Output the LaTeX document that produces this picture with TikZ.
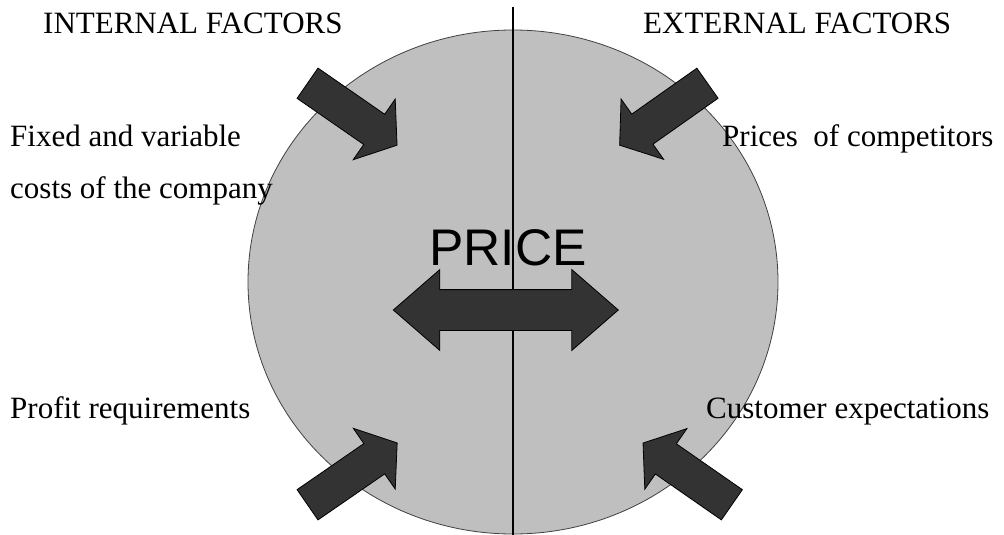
\documentclass[tikz,border=0pt]{standalone}
\usepackage{fontspec}
\setmainfont{Liberation Serif}
\newfontfamily\pricefont{Liberation Sans}
\usetikzlibrary{shapes.arrows}
\newcommand{\fs}{\fontsize{31}{36}\selectfont}

\begin{document}
\begin{tikzpicture}[x=1pt,y=-1pt,
    factor/.style={anchor=base west,inner sep=0pt,font=\fs},
    push/.style={single arrow,draw=black,fill=black!80,line width=0.8pt,
      text height=0pt,text depth=0pt,inner xsep=0pt,inner ysep=18pt,
      single arrow head extend=18.5pt,single arrow tip angle=106,
      minimum height=108.9pt,anchor=tail}]
  \useasboundingbox (0,0) rectangle (1004,535);
  \filldraw[fill=black!25,draw=black!75,line width=0.8pt]
    (513,282) ellipse [x radius=265pt,y radius=252pt];
  \coordinate (top) at (513,7);
  \coordinate (bottom) at (513,535);
  \draw[line width=1.2pt] (top) -- (bottom);
  \node[push,rotate=-34.7] (fixedpush) at (307.2,83) {};
  \node[push,rotate=215.2,minimum height=107.5pt] (rivalpush) at (707.8,83) {};
  \node[push,rotate=34.6] (profitpush) at (307.2,505) {};
  \node[push,rotate=145.2,minimum height=108.2pt] (buyerpush) at (732.2,505) {};
  \node[double arrow,draw=black,fill=black!80,line width=0.8pt,
    text height=0pt,text depth=0pt,inner xsep=0pt,inner ysep=20pt,
    double arrow head extend=20pt,double arrow tip angle=82,
    minimum height=225pt] (pricearrow) at (505.8,310) {};
  \node[anchor=base,inner sep=0pt,font=\pricefont\fontsize{51.5}{60}\selectfont]
    (price) at (508,265) {PRICE};
  \node[factor] (internal) at (43,34) {INTERNAL FACTORS};
  \node[factor] (external) at (643,34) {EXTERNAL FACTORS};
  \node[factor] (costs) at (10,146) {Fixed and variable};
  \node[factor] (company) at (10,198) {costs of the company};
  \node[factor] (rivals) at (722,146) {Prices\ \ of competitors};
  \node[factor] (profit) at (10,418) {Profit requirements};
  \node[factor] (buyers) at (706,418) {Customer expectations};
\end{tikzpicture}
\end{document}
